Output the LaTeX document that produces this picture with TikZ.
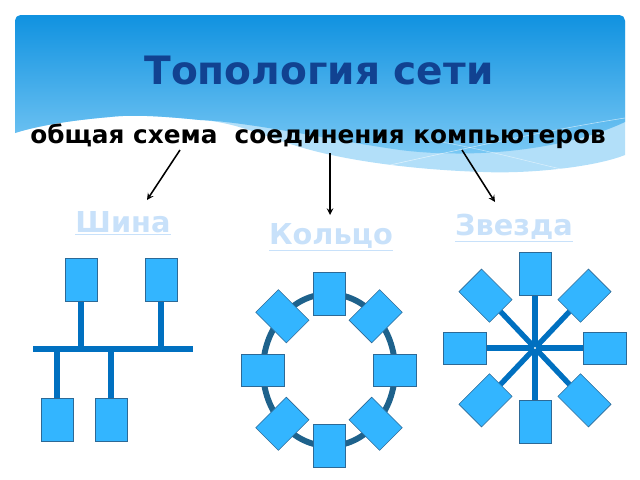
\documentclass[tikz,border=0pt]{standalone}
\usepackage{fontspec}
\setmainfont{DejaVu Sans}
\usepackage{tikz}
\usetikzlibrary{arrows, positioning}

\definecolor{headtop}{RGB}{16,146,224}
\definecolor{headbot}{RGB}{125,202,245}
\definecolor{headpale}{RGB}{178,223,249}
\definecolor{titleblue}{RGB}{17,66,145}
\definecolor{linkblue}{RGB}{200,225,250}
\definecolor{boxfill}{RGB}{51,181,255}
\definecolor{boxedge}{RGB}{45,105,150}
\definecolor{wireblue}{RGB}{0,112,192}
\definecolor{ringblue}{RGB}{30,98,140}

\begin{document}
\begin{tikzpicture}[
            x = 0.025cm, y = -0.025cm, % one unit is one pixel
            > = stealth, % arrow head style
            semithick % line style
        ]

        \tikzstyle{pc}=[
            draw = boxedge,
            thin,
            fill = boxfill,
            minimum width = 0.8cm,
            minimum height = 1.08cm,
            inner sep = 0pt
        ]
        \tikzstyle{buswire}=[draw = wireblue, line width = 4.2pt]
        \tikzstyle{drop}=[draw = wireblue, line width = 3.8pt]
        \tikzstyle{ringline}=[draw = ringblue, line width = 4.2pt]
        \tikzstyle{link}=[text = linkblue, font = \bfseries\fontsize{20.5}{24}\selectfont, anchor = base]

        \useasboundingbox (0,0) rectangle (640,480);

        % header band
        \fill[headpale] (15,133) {[rounded corners=4pt] -- (15,15) -- (625,15)} -- (625,155)
            .. controls (595,167) and (530,174) .. (483,172)
            .. controls (420,170) and (350,162) .. (300,147)
            .. controls (260,135) and (235,122) .. (200,120)
            .. controls (170,117) and (135,114) .. (110,117)
            .. controls (75,120) and (40,125) .. (15,133) -- cycle;
        \shade[top color = headtop, bottom color = headbot] (15,133) {[rounded corners=4pt] -- (15,15) -- (625,15)} -- (625,122)
            .. controls (570,148) and (480,160) .. (400,150)
            .. controls (330,140) and (250,122) .. (200,120)
            .. controls (170,117) and (135,114) .. (110,117)
            .. controls (75,120) and (40,125) .. (15,133) -- cycle;
        \draw[white, opacity = 0.6, thin] (390,165) .. controls (480,145) and (560,128) .. (625,118);
        \draw[white, opacity = 0.5, thin] (430,140) .. controls (490,150) and (540,165) .. (575,172);

	\node[text = titleblue, font = \bfseries\fontsize{27.8}{33}\selectfont, anchor = base] (title) at (319,85) {Топология сети};
	\node[font = \bfseries\fontsize{17.6}{21}\selectfont, anchor = base] (sub) at (318,143) {общая схема\ \ соединения компьютеров};

	\node[link] (shina) at (123,232) {\underline{Шина}};
	\node[link] (koltso) at (331,244) {\underline{Кольцо}};
	\node[link] (zvezda) at (514,235) {\underline{Звезда}};

        \coordinate (t1) at (180,150);
        \coordinate (h1) at (147,200);
        \coordinate (t2) at (330,153);
        \coordinate (h2) at (330,215);
        \coordinate (t3) at (462,150);
        \coordinate (h3) at (495,202);
        \path[->, line width = 1.1pt] (t1) edge (h1);
        \path[->, line width = 1.1pt] (t2) edge (h2);
        \path[->, line width = 1.1pt] (t3) edge (h3);

        % bus
        \coordinate (busL) at (33,349);
        \coordinate (busR) at (193,349);
        \node[pc] (b1) at (81,280) {};
        \node[pc] (b2) at (161,280) {};
        \node[pc] (b3) at (57,420) {};
        \node[pc] (b4) at (111,420) {};
        \draw[buswire] (busL) -- (busR);
        \foreach \n in {b1,b2,b3,b4}
            \draw[drop] (\n) -- (\n |- busL);

        % ring
        \coordinate (rc) at (329,370);
        \draw[ringline] (rc) ellipse [x radius = 1.65cm, y radius = 1.9cm];
        \foreach \a [count=\i] in {0,45,...,315}
            \node[pc, rotate = \a-90] (r\i) at ({329+66*cos(\a)},{370-76*sin(\a)}) {};

        % star
        \coordinate (sc) at (535,348);
        \foreach \a [count=\i] in {0,45,...,315}
            \node[pc, rotate = \a-90] (s\i) at ({535+70*cos(\a)},{348-74*sin(\a)}) {};
        \foreach \i in {1,...,8}
            \draw[drop] (sc) -- (s\i);
        \fill[white] (sc) circle (0.8pt);

    \end{tikzpicture}
\end{document}
